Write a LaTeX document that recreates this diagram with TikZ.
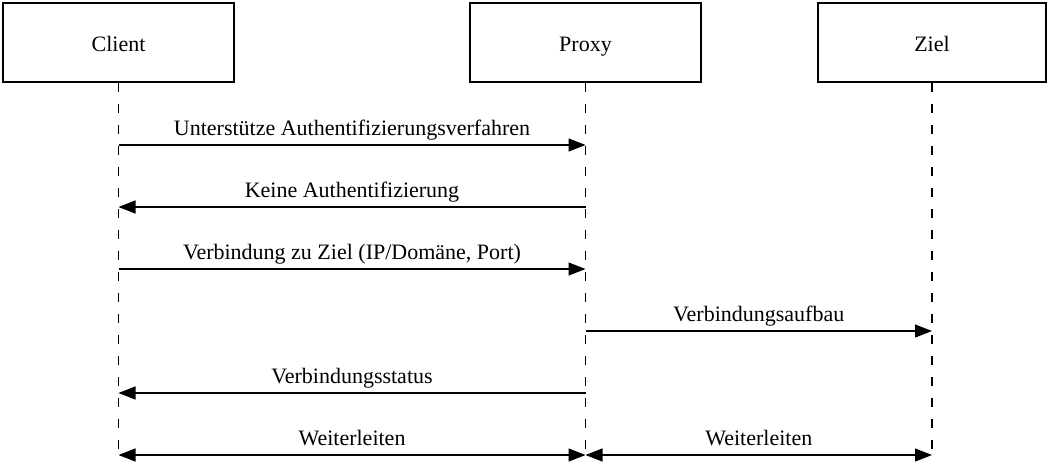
\documentclass[tikz,border=0pt]{standalone}
\usepackage{fontspec}
\setmainfont{Liberation Serif}
\usetikzlibrary{arrows.meta}
\begin{document}
\begin{tikzpicture}[x=1pt,y=-1pt,
  party/.style={draw,line width=1.6pt,minimum height=79pt,inner sep=0pt},
  ptext/.style={font=\fontsize{22}{26}\selectfont,inner sep=0pt,anchor=base},
  lifeline/.style={line width=1.1pt,dash pattern=on 9pt off 12pt},
  msg/.style={line width=1.2pt,-{Triangle[length=17pt,width=13pt]}},
  bothmsg/.style={line width=1.2pt,{Triangle[length=17pt,width=13pt]}-{Triangle[length=17pt,width=13pt]}},
  lbl/.style={font=\fontsize{22}{26}\selectfont,inner sep=0pt,anchor=base,yshift=10pt}]
\useasboundingbox (0,0) rectangle (1049,464);
\node[party,minimum width=231pt] (client) at (118.5,42.5) {};
\node[party,minimum width=231pt] (proxy) at (585.5,42.5) {};
\node[party,minimum width=228pt] (ziel) at (932,42.5) {};
\node[ptext] (clientT) at (118.5,51) {Client};
\node[ptext] (proxyT) at (585.5,51) {Proxy};
\node[ptext] (zielT) at (932,51) {Ziel};
% lifeline end points
\coordinate (cE) at (118.5,460);
\coordinate (pE) at (585.5,460);
\coordinate (zE) at (932,460);
\draw[lifeline] (client.south) -- (cE);
\draw[lifeline] (proxy.south) -- (pE);
\draw[lifeline] (ziel.south) -- (zE);
% message anchor points on the lifelines
\foreach \n/\y in {1/145,2/207,3/269,4/331,5/393,6/455}{
  \coordinate (c\n) at (118.5,\y);
  \coordinate (p\n) at (585.5,\y);
  \coordinate (z\n) at (932,\y);
}
\draw[msg] (c1) -- node[lbl] {Unterstütze Authentifizierungsverfahren} (p1);
\draw[msg] (p2) -- node[lbl] {Keine Authentifizierung} (c2);
\draw[msg] (c3) -- node[lbl] {Verbindung zu Ziel (IP/Domäne, Port)} (p3);
\draw[msg] (p4) -- node[lbl] {Verbindungsaufbau} (z4);
\draw[msg] (p5) -- node[lbl] {Verbindungsstatus} (c5);
\draw[bothmsg] (c6) -- node[lbl] {Weiterleiten} (p6);
\draw[bothmsg] (p6) -- node[lbl] {Weiterleiten} (z6);
\end{tikzpicture}
\end{document}
